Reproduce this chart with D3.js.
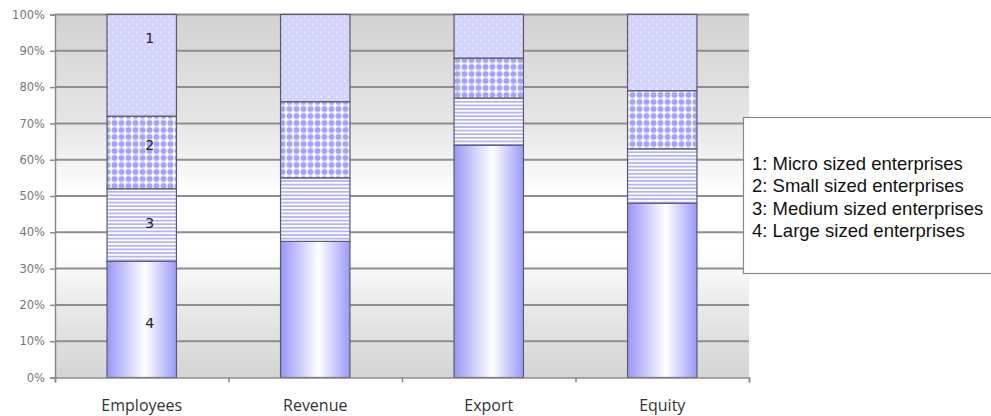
<!DOCTYPE html>
<html>
  <head>
    <script src="https://d3js.org/d3.v7.min.js"></script>
    <style>
      body { margin: 0; background: #fff; }
      .ytick text { font-family: "DejaVu Sans", sans-serif; font-size: 11.5px; fill: #777; }
      .xlab { font-family: "Open Sans", sans-serif; font-size: 16px; fill: #333; }
      .legend text { font-family: "Liberation Sans", Arial, sans-serif; font-size: 18.5px; fill: #111; }
    </style>
  </head>
  <body>
    <div id="chart"></div>
    <script>
      // values, in percent
      const categories = ["Employees", "Revenue", "Export", "Equity"];
      const large = [32, 37.5, 64, 48];
      const medium = [20, 17.5, 13, 15];
      const small = [20, 21, 11, 16];
      const micro = [28, 24, 12, 21];
      const yTicks = [0, 10, 20, 30, 40, 50, 60, 70, 80, 90, 100];
      const legendItems = [
        "1: Micro sized enterprises",
        "2: Small sized enterprises",
        "3: Medium sized enterprises",
        "4: Large sized enterprises"
      ];
      // the numbers written inside the first bar, and their height in %
      const segLabels = ["4", "3", "2", "1"];
      const segLabelAt = [15, 42.5, 64, 93.5];

      const margin = { top: 14.5, right: 242, bottom: 38.5, left: 55 };
      const width = 991 - margin.left - margin.right;
      const height = 416 - margin.top - margin.bottom;

      const root = d3.select("#chart").append("svg")
        .attr("width", 991).attr("height", 416);
      const defs = root.append("defs");

      // plot area background: grey on top and bottom, white in the middle
      const bg = defs.append("linearGradient").attr("id", "bg")
        .attr("x1", 0).attr("y1", 0).attr("x2", 0).attr("y2", 1);
      [[0, "#d2d2d2"], [0.3, "#e6e6e6"], [0.5, "#ffffff"], [0.65, "#ffffff"], [0.85, "#e4e4e4"], [1, "#d4d4d4"]]
        .forEach(s => bg.append("stop").attr("offset", s[0]).attr("stop-color", s[1]));

      // large: cylinder look
      const cyl = defs.append("linearGradient").attr("id", "cyl");
      [[0, "#9797f6"], [0.55, "#ffffff"], [1, "#9a9afa"]]
        .forEach(s => cyl.append("stop").attr("offset", s[0]).attr("stop-color", s[1]));

      // medium: horizontal stripes
      const stripes = defs.append("pattern").attr("id", "stripes")
        .attr("patternUnits", "userSpaceOnUse").attr("width", 8).attr("height", 3.6);
      stripes.append("rect").attr("width", 8).attr("height", 3.6).attr("fill", "#ffffff");
      stripes.append("rect").attr("width", 8).attr("height", 1.8).attr("fill", "#b4b4fb");

      // small: dot grid on white
      const dots = defs.append("pattern").attr("id", "dots")
        .attr("patternUnits", "userSpaceOnUse").attr("width", 7).attr("height", 7);
      dots.append("rect").attr("width", 7).attr("height", 7).attr("fill", "#ffffff");
      dots.append("circle").attr("cx", 3.5).attr("cy", 3.5).attr("r", 3).attr("fill", "#a3a3fb");

      // micro: light lavender with tiny white dots
      const fine = defs.append("pattern").attr("id", "fine")
        .attr("patternUnits", "userSpaceOnUse").attr("width", 8).attr("height", 8);
      fine.append("rect").attr("width", 8).attr("height", 8).attr("fill", "#d3d3fb");
      fine.append("circle").attr("cx", 2).attr("cy", 2).attr("r", 0.8).attr("fill", "#ffffff");
      fine.append("circle").attr("cx", 6).attr("cy", 6).attr("r", 0.8).attr("fill", "#ffffff");

      const svg = root.append("g")
        .attr("transform", `translate(${margin.left}, ${margin.top})`);

      const x = d3.scaleBand().domain(categories).range([0, width])
        .paddingInner(0.6).paddingOuter(0.3);
      const y = d3.scaleLinear().domain([0, 100]).range([height, 0]);

      svg.append("rect").attr("width", width).attr("height", height).attr("fill", "url(#bg)");

      // gridlines
      svg.selectAll(".grid").data(yTicks.slice(1)).enter().append("line")
        .attr("x1", 0).attr("x2", width)
        .attr("y1", d => y(d)).attr("y2", d => y(d))
        .attr("stroke", "#8e8e8e").attr("stroke-width", 2);

      const table = categories.map((c, i) => ({
        cat: c, large: large[i], medium: medium[i], small: small[i], micro: micro[i]
      }));
      const keys = ["large", "medium", "small", "micro"];
      const fills = { large: "url(#cyl)", medium: "url(#stripes)", small: "url(#dots)", micro: "url(#fine)" };
      const series = d3.stack().keys(keys)(table);

      svg.selectAll(".layer").data(series).enter().append("g")
        .attr("fill", d => fills[d.key])
        .selectAll("rect").data(d => d).enter().append("rect")
        .attr("x", d => x(d.data.cat))
        .attr("y", d => y(d[1]))
        .attr("width", x.bandwidth())
        .attr("height", d => y(d[0]) - y(d[1]))
        .attr("stroke", "#5a5a6a").attr("stroke-width", 1.2);

      // numbers inside the Employees bar
      svg.selectAll(".seg").data(segLabels).enter().append("text")
        .attr("x", x(categories[0]) + x.bandwidth() / 2 + 8)
        .attr("y", (d, i) => y(segLabelAt[i]))
        .attr("dy", "0.35em")
        .attr("text-anchor", "middle")
        .style("font-family", "DejaVu Sans, sans-serif")
        .style("font-size", "14px")
        .attr("fill", "#222")
        .text(d => d);

      // y axis
      const yAxis = svg.append("g").attr("class", "ytick")
        .call(d3.axisLeft(y).tickValues(yTicks).tickFormat(d => d + "%").tickSize(5).tickPadding(5));
      yAxis.select(".domain").attr("stroke", "#8a8a8a").attr("stroke-width", 1.5);
      yAxis.selectAll(".tick line").attr("stroke", "#8a8a8a").attr("stroke-width", 1.5);

      // x axis: ticks between the categories
      const xb = d3.scaleLinear().domain([0, categories.length]).range([0, width]);
      const xAxis = svg.append("g").attr("transform", `translate(0, ${height})`)
        .call(d3.axisBottom(xb).ticks(categories.length).tickSize(5).tickFormat(""));
      xAxis.select(".domain").attr("stroke", "#8a8a8a").attr("stroke-width", 1.5);
      xAxis.selectAll(".tick line").attr("stroke", "#8a8a8a").attr("stroke-width", 1.5);

      svg.selectAll(".xlab").data(categories).enter().append("text")
        .attr("class", "xlab")
        .attr("x", d => x(d) + x.bandwidth() / 2)
        .attr("y", height + 33)
        .attr("text-anchor", "middle")
        .text(d => d);

      // legend box, running off the right edge
      const legend = root.append("g").attr("class", "legend");
      legend.append("rect")
        .attr("x", 743.5).attr("y", 117.5).attr("width", 260).attr("height", 156)
        .attr("fill", "#fff").attr("stroke", "#8a8a8a").attr("stroke-width", 1.2);
      legend.selectAll("text").data(legendItems).enter().append("text")
        .attr("x", 752)
        .attr("y", (d, i) => 170 + i * 22.3)
        .text(d => d);
    </script>
  </body>
</html>
